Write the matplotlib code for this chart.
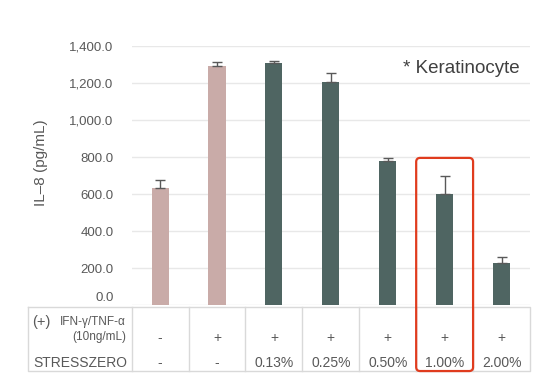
import matplotlib
matplotlib.use('Agg')
import matplotlib.pyplot as plt
from matplotlib.patches import FancyBboxPatch
from matplotlib.transforms import blended_transform_factory, ScaledTranslation
from matplotlib.ticker import FuncFormatter

plt.rcParams['font.family'] = ['Liberation Sans', 'DejaVu Sans']

# dados
valores = [635, 1292, 1306, 1204, 778, 598, 228]
erros = [40, 20, 12, 50, 18, 100, 30]
cores = ['#C9ABA8', '#C9ABA8', '#4F6562', '#4F6562', '#4F6562', '#4F6562', '#4F6562']
linha_ifn = ['-', '+', '+', '+', '+', '+', '+']
linha_stress = ['-', '-', '0.13%', '0.25%', '0.50%', '1.00%', '2.00%']

cinza = '#595959'
grade = '#E8E8E8'

fig = plt.figure(figsize=(5.57, 3.88), dpi=100)
ax = fig.add_axes([0.2364, 0.2139, 0.7151, 0.6675])

x = list(range(len(valores)))
ax.bar(x, valores, width=0.3, color=cores, zorder=2)
ax.errorbar(x, valores, yerr=[[0] * len(erros), erros], fmt='none',
            ecolor=cinza, elinewidth=1, capsize=3.3, capthick=1, zorder=3)

ax.set_xlim(-0.5, 6.5)
ax.set_ylim(0, 1400)
ax.set_yticks(range(0, 1401, 200))
ax.yaxis.set_major_formatter(FuncFormatter(lambda v, p: f'{v:,.1f}'))
ax.tick_params(axis='y', length=0, pad=13, labelsize=9.5, labelcolor=cinza)
ax.set_xticks([])
ax.grid(axis='y', color=grade, lw=1, zorder=0)
for s in ax.spines.values():
    s.set_visible(False)

# rotulo 0.0 um pouco acima, como no original
fig.canvas.draw()
for lab in ax.get_yticklabels():
    if lab.get_text() == '0.0':
        lab.set_transform(lab.get_transform() + ScaledTranslation(0, 6 / 72, fig.dpi_scale_trans))

fig.text(41 / 557, 1 - 163 / 388, 'IL–8 (pg/mL)', rotation=90, ha='center', va='center',
         fontsize=11, color=cinza)

ax.text(0.975, 0.915, '* Keratinocyte', transform=ax.transAxes, ha='right', va='center',
        fontsize=13.5, color='#404040')

# tabela de dados
tr = blended_transform_factory(ax.transData, ax.transAxes)
x_esq = -2.32
y_top = -0.008
y_bot = -0.255
lc = '#D9D9D9'
ax.plot([x_esq, 6.5, 6.5, x_esq, x_esq], [y_top, y_top, y_bot, y_bot, y_top],
        color=lc, lw=1, transform=tr, clip_on=False)
for b in [i - 0.5 for i in range(7)]:
    ax.plot([b, b], [y_top, y_bot], color=lc, lw=1, transform=tr, clip_on=False)

y1 = -0.127
y2 = -0.224
for i in x:
    ax.text(i, y1, linha_ifn[i], transform=tr, ha='center', va='center', fontsize=10, color=cinza)
    ax.text(i, y2, linha_stress[i], transform=tr, ha='center', va='center', fontsize=10, color=cinza)

ax.text(-1.93, -0.066, '(+)', transform=tr, ha='right', va='center', fontsize=10.5, color=cinza)
ax.text(-0.6, -0.066, 'IFN-γ/TNF-α', transform=tr, ha='right', va='center', fontsize=8.5, color=cinza)
ax.text(-0.6, -0.124, '(10ng/mL)', transform=tr, ha='right', va='center', fontsize=8.5, color=cinza)
ax.text(-0.58, y2, 'STRESSZERO', transform=tr, ha='right', va='center', fontsize=10, color=cinza)

# destaque 1.00%
caixa = FancyBboxPatch((4.5, y_bot), 1.0, 0.568 - y_bot, boxstyle='round,pad=0,rounding_size=0.07',
                       transform=tr, fill=False, edgecolor='#E03C1E', lw=1.6, clip_on=False, zorder=5,
                       mutation_aspect=0.22)
ax.add_patch(caixa)

fig.savefig('out.png', dpi=100)
